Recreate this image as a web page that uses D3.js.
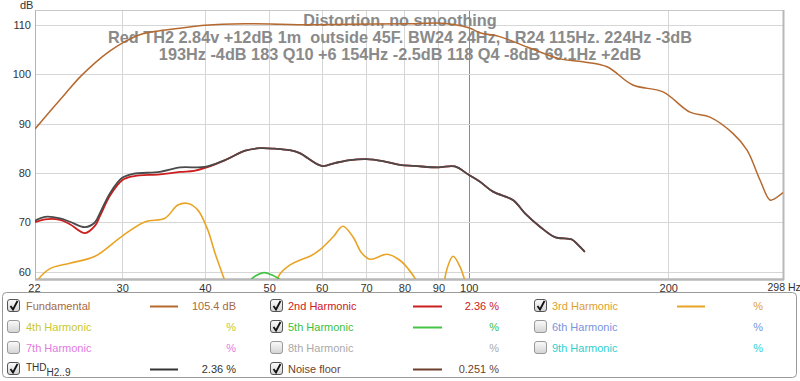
<!DOCTYPE html>
<html><head><meta charset="utf-8">
<script src="https://cdn.jsdelivr.net/npm/d3@7"></script>
<style>body{margin:0;background:#fff}svg{display:block;font-family:"Liberation Sans",Arial,sans-serif}text{white-space:pre}</style>
</head><body><svg id="c" width="800" height="381"></svg>
<script>
// ---------- data ----------
const xTicks = [22,30,40,50,60,70,80,90,100,200,298];
const yTicks = [60,70,80,90,100,110];
const titleLines = ["Distortion, no smoothing",
 "Red TH2 2.84v +12dB 1m  outside 45F. BW24 24Hz, LR24 115Hz. 224Hz -3dB",
 "193Hz -4dB 183 Q10 +6 154Hz -2.5dB 118 Q4 -8dB 69.1Hz +2dB"];

const fundFreq = [22.16,23.35,24.6,25.9,27.3,28.76,30,31.9,34.2,36.7,40,46,51.9,56.6,66,80,91.4,100,104,111.4,122.5,137.3,148.7,161.7,176.9,196.4,215.7,231.2,250.4,263,275,284.8,289.8,298];
const fundDb   = [88.9,92.5,96.0,99.4,102.3,104.7,106.3,108.0,108.8,109.3,109.9,110.2,110.1,110.0,110.1,110.2,110.3,109.4,108.4,107.6,105.5,103.1,102.5,101.5,97.8,96.4,92.3,91.3,88.0,84.6,78.6,74.5,74.8,76.0];

const thdFreq = [22.16,22.94,24.17,25.02,26.37,27.3,27.78,28.76,30,31.15,34.2,36.7,40,42.9,46,48.4,51,53.7,55.6,60,62.8,66.2,70,74.2,78.7,82.9,89.9,95.3,100,104,108.8,116.6,121.6,128.1,134.9,143.1,146.2,149.7];
const thdDb   = [70.3,71.1,70.8,70.1,69.0,70.0,71.9,75.9,79.0,79.8,80.2,81.1,81.2,82.6,84.5,85.0,84.9,84.6,84.0,81.4,82.0,82.6,82.8,82.4,81.6,81.4,81.1,81.3,79.6,78.2,76.2,74.5,71.8,69.1,67.0,66.5,65.4,64.0];

const h2Freq = [22.16,22.94,24.17,25.02,26.37,27.3,27.78,28.76,30,31.15,34.2,36.7,38.5,40,42.9,46,48.4,51,53.7,55.6,60,62.8,66.2,70,74.2,78.7,82.9,89.9,95.3,100,104,108.8,116.6,121.6,128.1,134.9,143.1,146.2,149.7];
const h2Db   = [70.0,70.6,70.5,69.6,67.8,69.3,71.3,75.4,78.5,79.3,79.7,80.2,80.4,81.0,82.6,84.5,85.0,84.9,84.6,84.0,81.4,82.0,82.6,82.8,82.4,81.6,81.4,81.1,81.3,79.6,78.2,76.2,74.5,71.8,69.1,67.0,66.5,65.4,64.0];

const h3aFreq = [22.0,22.4,23.35,25.02,27.3,30,32.5,34.8,36.4,37.7,39,40.4,41.4,42.7,43.3];
const h3aDb   = [56.5,58.4,60.6,61.7,63.1,67.2,70.1,70.8,73.5,73.8,72.5,68.4,63.8,58.7,56.0];
const h3bFreq = [51.0,51.9,53.7,55.6,57.6,59.6,62.4,64.6,66.9,69,71,75.3,78.7,81,83.3,84.5];
const h3bDb   = [57.0,59.5,61.3,62.3,63.1,64.4,67.0,69.2,67.0,63.7,62.5,63.5,62.3,60.6,58.3,57.0];
const h3cFreq = [91.8,92.7,94.7,97,99];
const h3cDb   = [57.5,60.5,63.1,61.0,57.5];
const h5Freq = [46.0,46.6,47.8,49.1,50.5,52.3,52.9];
const h5Db   = [57.0,58.0,59.2,59.8,59.3,58.0,57.0];

const legendLabels = ["Fundamental","2nd Harmonic","3rd Harmonic","4th Harmonic","5th Harmonic","6th Harmonic","7th Harmonic","8th Harmonic","9th Harmonic","THD","Noise floor"];
const legendValues = ["105.4 dB","2.36 %","%","%","%","%","%","%","%","2.36 %","0.251 %"];
const legendChecked = [true,true,true,false,true,false,false,false,false,true,true];

// ---------- styles ----------
const colors = {fund:"#b5692f", h2:"#cc1e1e", h3:"#e9a426", h4:"#c9c833", h5:"#44c444", h6:"#7b93dd", h7:"#e27ae2", h8:"#aaaaaa", h9:"#33d0d0", thd:"#4a4a4a", noise:"#6e3f2c"};
const legendColors = [colors.fund,colors.h2,colors.h3,colors.h4,colors.h5,colors.h6,colors.h7,colors.h8,colors.h9,"#333",colors.noise];
const labelColors = ["#a86a40","#cc2020","#e0a030","#c8c830","#40c040","#7b93dd","#e27ae2","#aaaaaa","#30d0d0","#333","#6e3f2c"];

const svg = d3.select("#c");
const L=35,R=783,T=10,B=279;
const x = d3.scaleLog().domain([22.16,298]).range([L,R]);
const y = d3.scaleLinear().domain([58.5,113]).range([B,T]);

svg.append("defs").append("clipPath").attr("id","pc").append("rect").attr("x",L).attr("y",T).attr("width",R-L).attr("height",B-T);

// grid
const g = svg.append("g");
g.selectAll(".vg").data(xTicks.filter(d=>d>22&&d<298)).join("line")
 .attr("x1",d=>Math.round(x(d))+0.5).attr("x2",d=>Math.round(x(d))+0.5).attr("y1",T).attr("y2",B)
 .attr("stroke",d=>d===100?"#8c8c8c":"#d6d6d6").attr("stroke-width",1);
g.selectAll(".hg").data(yTicks).join("line")
 .attr("x1",L).attr("x2",R).attr("y1",d=>Math.round(y(d))+0.5).attr("y2",d=>Math.round(y(d))+0.5)
 .attr("stroke","#d6d6d6");

// frame
svg.append("line").attr("x1",L).attr("x2",R).attr("y1",T+0.5).attr("y2",T+0.5).attr("stroke","#c8c8c8");
svg.append("line").attr("x1",L+0.5).attr("x2",L+0.5).attr("y1",T).attr("y2",B).attr("stroke","#b4b4b4");
svg.append("line").attr("x1",R+0.5).attr("x2",R+0.5).attr("y1",T).attr("y2",B+1).attr("stroke","#b8b8b8").attr("stroke-width",2);
svg.append("line").attr("x1",L).attr("x2",R+1).attr("y1",B+0.5).attr("y2",B+0.5).attr("stroke","#b8b8b8").attr("stroke-width",2.5);

// axes
const yAxis = d3.axisLeft(y).tickValues(yTicks).tickSize(0).tickPadding(4);
const ya = svg.append("g").attr("transform",`translate(${L},0)`).call(yAxis);
ya.select(".domain").remove();
ya.selectAll("text").attr("font-size",11).attr("fill","#333").attr("font-family","Liberation Sans, Arial, sans-serif").attr("x",-4);

const xAxis = d3.axisBottom(x).tickValues(xTicks).tickSize(0).tickPadding(5).tickFormat(d=>d===298?"298 Hz":String(d));
const xa = svg.append("g").attr("transform",`translate(0,${B})`).call(xAxis);
xa.select(".domain").remove();
xa.selectAll("text").attr("font-size",d=>d===298?10.5:11).attr("fill","#333").attr("font-family","Liberation Sans, Arial, sans-serif")
 .attr("text-anchor",d=>d===298?"start":"middle").attr("dx",d=>d===298?-16:(d===22?1:0));

svg.append("text").attr("x",20).attr("y",9).attr("font-size",11).attr("fill","#333").text("dB");

// title
svg.append("g").selectAll("text").data(titleLines).join("text")
 .attr("x",400).attr("y",(d,i)=>26+i*17).attr("text-anchor","middle")
 .attr("font-size",16.3).attr("font-weight","bold").attr("fill","#8a8a8a").text(d=>d);

// curves
const line = d3.line().x(d=>x(d[0])).y(d=>y(d[1])).curve(d3.curveCatmullRom.alpha(0.5));
const plot = svg.append("g").attr("clip-path","url(#pc)");
function draw(fr,db,col,w){
  plot.append("path").datum(d3.zip(fr,db)).attr("d",line).attr("fill","none").attr("stroke",col).attr("stroke-width",w||1.6).attr("stroke-linejoin","round");
}
draw(h3aFreq,h3aDb,colors.h3);
draw(h3bFreq,h3bDb,colors.h3);
draw(h3cFreq,h3cDb,colors.h3);
draw(h5Freq,h5Db,colors.h5);
draw(h2Freq,h2Db,colors.h2,1.8);
draw(thdFreq,thdDb,colors.thd,1.8);
draw(fundFreq,fundDb,colors.fund,1.5);

// legend
svg.append("rect").attr("x",2.5).attr("y",292.5).attr("width",794).attr("height",85).attr("rx",4)
 .attr("fill","#fff").attr("stroke","#9a9a9a");
const grad = svg.select("defs").append("linearGradient").attr("id","cbg").attr("x1",0).attr("x2",0).attr("y1",0).attr("y2",1);
grad.append("stop").attr("offset","0%").attr("stop-color","#fbfbfb");
grad.append("stop").attr("offset","100%").attr("stop-color","#d4d4d4");

const colX = [{cb:7,lab:26,l1:150,l2:178,val:236},{cb:270,lab:288,l1:413,l2:442,val:499},{cb:534,lab:552,l1:677,l2:705,val:763}];
const rowY = [306,327,348,369];
const pos = [[0,0],[0,1],[0,2],[1,0],[1,1],[1,2],[2,0],[2,1],[2,2],[3,0],[3,1]];
const lg = svg.append("g").attr("font-size",11);
legendLabels.forEach((lab,i)=>{
  const [r,c]=pos[i]; const cx=colX[c]; const yy=rowY[r];
  lg.append("rect").attr("x",cx.cb+0.5).attr("y",yy-6.5).attr("width",12).attr("height",12).attr("rx",2.5)
    .attr("fill","url(#cbg)").attr("stroke",legendChecked[i]?"#555":"#999");
  if(legendChecked[i]){
    lg.append("path").attr("d",`M${cx.cb+3.5},${yy} L${cx.cb+6},${yy+3.5} L${cx.cb+10.5},${yy-5}`)
      .attr("fill","none").attr("stroke","#111").attr("stroke-width",1.8);
    lg.append("line").attr("x1",cx.l1).attr("x2",cx.l2).attr("y1",yy+0.5).attr("y2",yy+0.5)
      .attr("stroke",legendColors[i]).attr("stroke-width",2);
  }
  const t = lg.append("text").attr("x",cx.lab).attr("y",yy+4).attr("fill",labelColors[i]);
  if(lab==="THD"){ t.text("THD").attr("font-size",10).attr("y",yy+2); t.append("tspan").attr("dy",5).attr("font-size",10).text("H2..9"); }
  else t.text(lab);
  lg.append("text").attr("x",cx.val).attr("y",yy+4).attr("text-anchor","end").attr("fill",labelColors[i]).text(legendValues[i]);
});
</script></body></html>
